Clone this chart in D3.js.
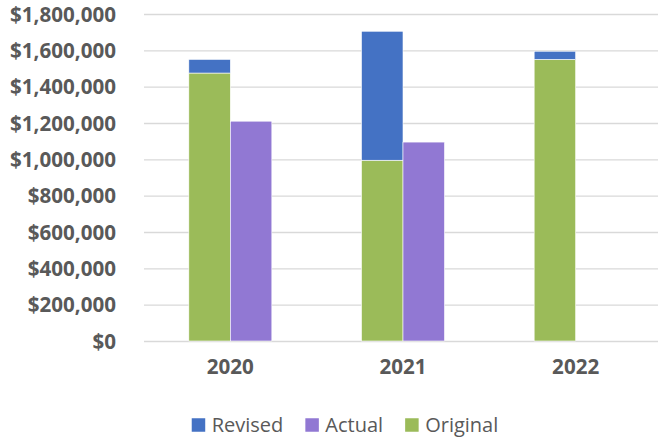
<!DOCTYPE html>
<meta charset="utf-8">
<script src="https://d3js.org/d3.v7.min.js"></script>
<style type="text/css">
body { margin: 0; background: #fff; }
text { font-family: "Open Sans", sans-serif; fill: #595959; }
.axis text { font-weight: 700; font-size: 20.6px; }
.legend text { font-size: 20px; }
</style>
<body>
</body>
<script>

// data
var years = ["2020", "2021", "2022"];
var original = [1475000, 995000, 1550000];
var revised = [75000, 710000, 45000];   // amount stacked on top of original
var actual = [1210000, 1095000, 0];
var yTicks = [0, 200000, 400000, 600000, 800000, 1000000, 1200000, 1400000, 1600000, 1800000];

var colors = {Revised: "#4472C4", Actual: "#9178D3", Original: "#9BBB59"};

var W = 658, H = 439;
var margin = {top: 14, left: 144, right: -4, bottom: 98};
var width = W - margin.left - margin.right;
var height = H - margin.top - margin.bottom;

var svg = d3.select("body").append("svg")
  .attr("width", W)
  .attr("height", H);

var g = svg.append("g")
  .attr("transform", "translate(" + margin.left + "," + margin.top + ")");

var x = d3.scaleBand().domain(years).range([0, width]);
var x1 = d3.scaleBand().domain(["plan", "actual"])
  .range([0, x.bandwidth()])
  .paddingInner(0)
  .paddingOuter(1.08);
var y = d3.scaleLinear().domain([0, 1800000]).range([height, 0]);

// gridlines + y labels
var yAxis = d3.axisLeft(y)
  .tickValues(yTicks)
  .tickSize(-width)
  .tickPadding(28)
  .tickFormat(function(d) { return "$" + d3.format(",")(d); });

var yg = g.append("g").attr("class", "y axis").call(yAxis);
yg.select(".domain").remove();
yg.selectAll("line").attr("stroke", "#D9D9D9").attr("stroke-width", 1.3);
yg.selectAll("text").attr("dy", "0.35em");

// stacked original + revised
var rows = years.map(function(yr, i) {
  return {year: yr, Original: original[i], Revised: revised[i], Actual: actual[i]};
});
var stack = d3.stack().keys(["Original", "Revised"])(rows);

g.selectAll(".series")
  .data(stack)
  .enter().append("g")
  .attr("class", "series")
  .attr("fill", function(s) { return colors[s.key]; })
  .selectAll("rect")
  .data(function(s) { return s; })
  .enter().append("rect")
  .attr("x", function(d) { return x(d.data.year) + x1("plan"); })
  .attr("y", function(d) { return y(d[1]); })
  .attr("width", x1.bandwidth())
  .attr("height", function(d) { return y(d[0]) - y(d[1]); })
  .attr("stroke", "#fff")
  .attr("stroke-width", 0.6);

g.selectAll(".actual")
  .data(rows.filter(function(d) { return d.Actual > 0; }))
  .enter().append("rect")
  .attr("class", "actual")
  .attr("fill", colors.Actual)
  .attr("x", function(d) { return x(d.year) + x1("actual"); })
  .attr("y", function(d) { return y(d.Actual); })
  .attr("width", x1.bandwidth())
  .attr("height", function(d) { return height - y(d.Actual); })
  .attr("stroke", "#fff")
  .attr("stroke-width", 0.6);

// x labels
var xAxis = d3.axisBottom(x).tickSize(0).tickPadding(18);
var xg = g.append("g").attr("class", "x axis")
  .attr("transform", "translate(0," + height + ")")
  .call(xAxis);
xg.select(".domain").remove();

// legend
var legendKeys = ["Revised", "Actual", "Original"];
var legend = svg.append("g").attr("class", "legend");
var items = legend.selectAll("g").data(legendKeys).enter().append("g");
items.append("rect")
  .attr("width", 13.5).attr("height", 13.5)
  .attr("y", -6.75)
  .attr("fill", function(d) { return colors[d]; });
items.append("text")
  .attr("x", 20)
  .attr("dy", "0.35em")
  .text(function(d) { return d; });

var pos = 0;
items.each(function() {
  var w = 20 + d3.select(this).select("text").node().getComputedTextLength();
  d3.select(this).attr("transform", "translate(" + pos + ",0)");
  pos += w + 22;
});
var total = pos - 22;
legend.attr("transform", "translate(" + (345 - total / 2) + ",425)");

</script>
